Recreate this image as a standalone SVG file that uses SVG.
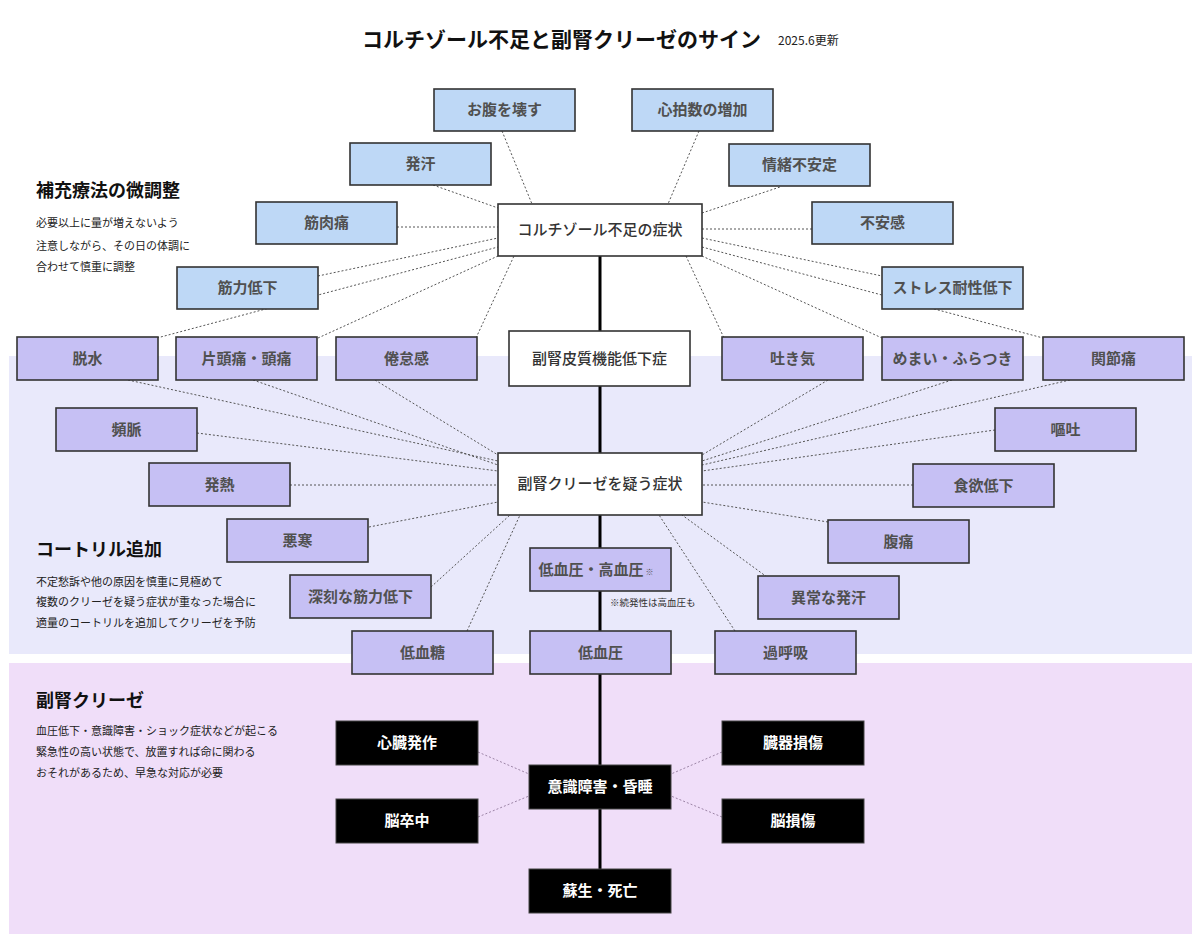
<svg xmlns="http://www.w3.org/2000/svg" width="1200" height="944" viewBox="0 0 1200 944">
<style>
text{font-family:"Noto Sans CJK JP","Noto Sans",sans-serif;}
.title{font-size:21px;font-weight:700;fill:#111;}
.date{font-size:12px;fill:#222;}
.h{font-size:18px;font-weight:700;fill:#111;}
.body{font-size:11px;fill:#222;}
.note{font-size:9.5px;fill:#333;}
.blue rect{fill:#BED8F6;stroke:#333;stroke-width:1.6;}
.purple rect{fill:#C6C0F4;stroke:#333;stroke-width:1.6;}
.white rect{fill:#fff;stroke:#333;stroke-width:1.6;}
.black rect{fill:#000;stroke:#444;stroke-width:1;}
.blue text,.purple text{font-size:15px;font-weight:700;fill:#505050;text-anchor:middle;}
.white text{font-size:15px;font-weight:500;fill:#333;text-anchor:middle;}
.black text{font-size:15px;font-weight:700;fill:#fff;text-anchor:middle;}
.dot{stroke:#555;stroke-width:1;stroke-dasharray:2 2;fill:none;}
.dotp{stroke:#9c84a6;stroke-width:1;stroke-dasharray:2 2;fill:none;}
.spine{stroke:#000;stroke-width:3;fill:none;}
</style>
<rect x="0" y="0" width="1200" height="944" fill="#fff"/>
<g id="bands">
<rect x="9" y="356" width="1183" height="298" fill="#E9E9FB"/>
<rect x="9" y="663" width="1183" height="271" fill="#F0DEF9"/>
</g>
<g id="titles">
<text class="title" x="362" y="47">コルチゾール不足と副腎クリーゼのサイン</text>
<text class="date" x="778" y="45">2025.6更新</text>
<text class="h" x="36" y="197">補充療法の微調整</text>
<text class="body" x="36" y="227">必要以上に量が増えないよう</text>
<text class="body" x="36" y="250">注意しながら、その日の体調に</text>
<text class="body" x="36" y="271">合わせて慎重に調整</text>
<text class="h" x="36" y="556">コートリル追加</text>
<text class="body" x="36" y="586">不定愁訴や他の原因を慎重に見極めて</text>
<text class="body" x="36" y="606">複数のクリーゼを疑う症状が重なった場合に</text>
<text class="body" x="36" y="627">適量のコートリルを追加してクリーゼを予防</text>
<text class="h" x="36" y="707">副腎クリーゼ</text>
<text class="body" x="36" y="735">血圧低下・意識障害・ショック症状などが起こる</text>
<text class="body" x="36" y="756">緊急性の高い状態で、放置すれば命に関わる</text>
<text class="body" x="36" y="777">おそれがあるため、早急な対応が必要</text>
<text class="note" x="610" y="606">※続発性は高血圧も</text>
</g>
<g id="connectors">
<line class="spine" x1="600" y1="256" x2="600" y2="869"/>
<line class="dot" x1="502" y1="131" x2="532" y2="204"/>
<line class="dot" x1="699" y1="131" x2="668" y2="204"/>
<line class="dot" x1="433" y1="185" x2="498" y2="208"/>
<line class="dot" x1="397" y1="227" x2="498" y2="227"/>
<line class="dot" x1="318" y1="276" x2="498" y2="238"/>
<line class="dot" x1="157" y1="338" x2="498" y2="247"/>
<line class="dot" x1="318" y1="338" x2="498" y2="256"/>
<line class="dot" x1="476" y1="338" x2="514" y2="256"/>
<line class="dot" x1="702" y1="213" x2="780" y2="187"/>
<line class="dot" x1="702" y1="229" x2="812" y2="229"/>
<line class="dot" x1="702" y1="238" x2="882" y2="276"/>
<line class="dot" x1="702" y1="247" x2="1043" y2="338"/>
<line class="dot" x1="702" y1="256" x2="882" y2="338"/>
<line class="dot" x1="686" y1="256" x2="724" y2="338"/>
<line class="dot" x1="375" y1="380" x2="498" y2="455"/>
<line class="dot" x1="128" y1="380" x2="498" y2="461"/>
<line class="dot" x1="253" y1="380" x2="498" y2="465"/>
<line class="dot" x1="197" y1="433" x2="498" y2="471"/>
<line class="dot" x1="290" y1="485" x2="498" y2="485"/>
<line class="dot" x1="369" y1="527" x2="498" y2="502"/>
<line class="dot" x1="431" y1="587" x2="510" y2="515"/>
<line class="dot" x1="467" y1="631" x2="520" y2="515"/>
<line class="dot" x1="828" y1="380" x2="702" y2="455"/>
<line class="dot" x1="952" y1="380" x2="702" y2="461"/>
<line class="dot" x1="1070" y1="380" x2="702" y2="465"/>
<line class="dot" x1="995" y1="430" x2="702" y2="471"/>
<line class="dot" x1="913" y1="485" x2="702" y2="485"/>
<line class="dot" x1="828" y1="522" x2="702" y2="502"/>
<line class="dot" x1="767" y1="577" x2="682" y2="515"/>
<line class="dot" x1="735" y1="631" x2="659" y2="515"/>
<line class="dotp" x1="478" y1="752" x2="529" y2="774"/>
<line class="dotp" x1="478" y1="817" x2="529" y2="796"/>
<line class="dotp" x1="722" y1="752" x2="671" y2="774"/>
<line class="dotp" x1="722" y1="817" x2="671" y2="796"/>
</g>
<g id="n-onaka" class="blue"><rect x="434" y="89" width="141" height="42"/><text x="504.5" y="115">お腹を壊す</text></g>
<g id="n-shinpaku" class="blue"><rect x="632" y="89" width="141" height="42"/><text x="702.5" y="115">心拍数の増加</text></g>
<g id="n-hakkan" class="blue"><rect x="350" y="143" width="141" height="42"/><text x="420.5" y="169">発汗</text></g>
<g id="n-jocho" class="blue"><rect x="729" y="144" width="141" height="42"/><text x="799.5" y="170">情緒不安定</text></g>
<g id="n-kinniku" class="blue"><rect x="256" y="202" width="141" height="42"/><text x="326.5" y="228">筋肉痛</text></g>
<g id="n-fuan" class="blue"><rect x="812" y="202" width="141" height="42"/><text x="882.5" y="228">不安感</text></g>
<g id="n-kinryoku" class="blue"><rect x="177" y="267" width="141" height="42"/><text x="247.5" y="293">筋力低下</text></g>
<g id="n-stress" class="blue"><rect x="882" y="267" width="141" height="42"/><text x="952.5" y="293">ストレス耐性低下</text></g>
<g id="c-cortisol" class="white"><rect x="498" y="204" width="204" height="52"/><text x="600" y="235">コルチゾール不足の症状</text></g>
<g id="c-hypo" class="white"><rect x="509" y="331" width="181" height="55"/><text x="599.5" y="364">副腎皮質機能低下症</text></g>
<g id="c-crisis" class="white"><rect x="498" y="453" width="204" height="62"/><text x="600" y="489">副腎クリーゼを疑う症状</text></g>
<g id="p-dassui" class="purple"><rect x="17" y="337" width="141" height="43"/><text x="87.5" y="364">脱水</text></g>
<g id="p-zutsu" class="purple"><rect x="176" y="337" width="141" height="43"/><text x="246.5" y="364">片頭痛・頭痛</text></g>
<g id="p-kentai" class="purple"><rect x="336" y="337" width="141" height="43"/><text x="406.5" y="364">倦怠感</text></g>
<g id="p-hakike" class="purple"><rect x="722" y="337" width="141" height="43"/><text x="792.5" y="364">吐き気</text></g>
<g id="p-memai" class="purple"><rect x="882" y="337" width="141" height="43"/><text x="952.5" y="364">めまい・ふらつき</text></g>
<g id="p-kansetsu" class="purple"><rect x="1043" y="337" width="141" height="43"/><text x="1113.5" y="364">関節痛</text></g>
<g id="p-hinmyaku" class="purple"><rect x="56" y="408" width="141" height="43"/><text x="126.5" y="435">頻脈</text></g>
<g id="p-oto" class="purple"><rect x="995" y="408" width="141" height="43"/><text x="1065.5" y="435">嘔吐</text></g>
<g id="p-hatsunetsu" class="purple"><rect x="149" y="463" width="141" height="43"/><text x="219.5" y="490">発熱</text></g>
<g id="p-shokuyoku" class="purple"><rect x="913" y="464" width="141" height="43"/><text x="983.5" y="491">食欲低下</text></g>
<g id="p-okan" class="purple"><rect x="227" y="519" width="141" height="43"/><text x="297.5" y="546">悪寒</text></g>
<g id="p-fukutsu" class="purple"><rect x="828" y="520" width="141" height="43"/><text x="898.5" y="547">腹痛</text></g>
<g id="p-shinkoku" class="purple"><rect x="290" y="575" width="141" height="43"/><text x="360.5" y="602">深刻な筋力低下</text></g>
<g id="p-ketsuatsu" class="purple"><rect x="530" y="548" width="141" height="43"/><text x="596" y="575">低血圧・高血圧<tspan font-size="8" dx="2">※</tspan></text></g>
<g id="p-ijo" class="purple"><rect x="758" y="576" width="141" height="43"/><text x="828.5" y="603">異常な発汗</text></g>
<g id="p-teiketto" class="purple"><rect x="352" y="631" width="141" height="43"/><text x="422.5" y="658">低血糖</text></g>
<g id="p-teiketsuatsu" class="purple"><rect x="530" y="631" width="141" height="43"/><text x="600.5" y="658">低血圧</text></g>
<g id="p-kakokyu" class="purple"><rect x="715" y="631" width="141" height="43"/><text x="785.5" y="658">過呼吸</text></g>
<g id="b-shinzo" class="black"><rect x="336" y="721" width="142" height="44"/><text x="407" y="748">心臓発作</text></g>
<g id="b-zoki" class="black"><rect x="722" y="721" width="142" height="44"/><text x="793" y="748">臓器損傷</text></g>
<g id="b-ishiki" class="black"><rect x="529" y="765" width="142" height="44"/><text x="600" y="792">意識障害・昏睡</text></g>
<g id="b-nosocchu" class="black"><rect x="336" y="799" width="142" height="44"/><text x="407" y="826">脳卒中</text></g>
<g id="b-nosonsho" class="black"><rect x="722" y="799" width="142" height="44"/><text x="793" y="826">脳損傷</text></g>
<g id="b-sosei" class="black"><rect x="529" y="869" width="142" height="44"/><text x="600" y="896">蘇生・死亡</text></g>
</svg>
